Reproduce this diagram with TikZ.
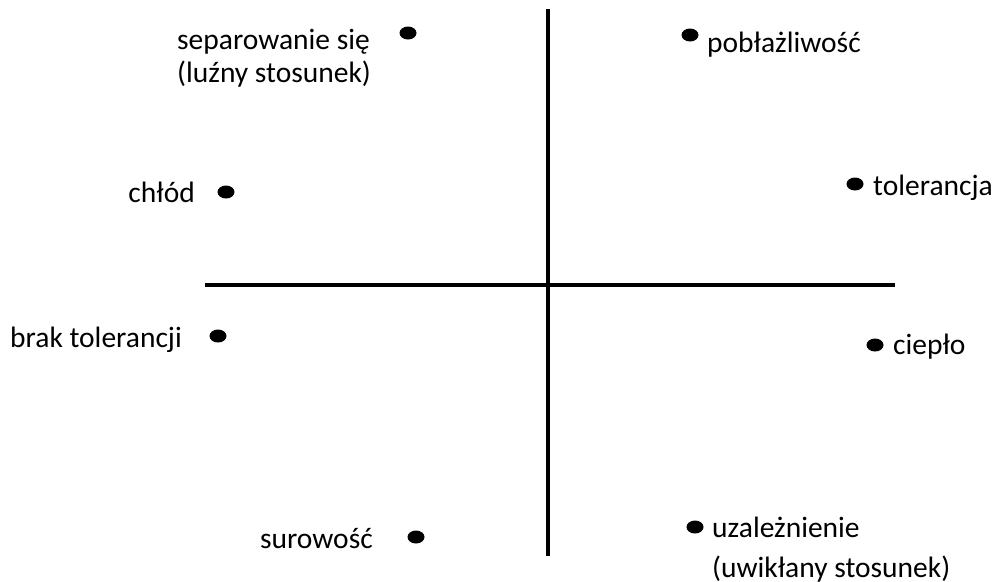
\documentclass[tikz,border=0pt]{standalone}
\usepackage{fontspec}
\setmainfont{Carlito}
\usetikzlibrary{shapes.geometric}

\begin{document}
\begin{tikzpicture}[x=1pt, y=-1pt,
  axis/.style={line width=4pt},
  dot/.style={ellipse, fill=black, inner sep=0pt, minimum width=17pt, minimum height=13pt},
  lbl/.style={font=\fontsize{29.5}{34}\selectfont, inner sep=0pt, align=left}]
\useasboundingbox (0,0) rectangle (992,581);
\coordinate (top) at (548,9); \coordinate (bottom) at (548,556);
\coordinate (left) at (205,285); \coordinate (right) at (895,285);
\draw[axis] (top) -- (bottom);
\draw[axis] (left) -- (right);
\foreach \n/\x/\y in {sep/408/33, pob/690/35, chl/226/192, tol/855/184, brak/218/336, cie/875/345, sur/416/537, uza/695/527}
  { \node[dot] (\n) at (\x,\y) {}; }
% two-line labels sit on their last baseline
\foreach \n/\x/\y/\a/\t in {sep/177/82/west/{separowanie się\\[-1pt](luźny stosunek)}, pob/707/52/west/{pobłażliwość}, chl/195/202/east/{chłód}, tol/873/195/west/{tolerancja}, brak/182/347/east/{brak tolerancji}, cie/893/354/west/{ciepło}, sur/373/548/east/{surowość}, uza/712/577/west/{uzależnienie\\[6pt](uwikłany stosunek)}}
  { \node[lbl, anchor=base \a] (\n-t) at (\x,\y) {\t}; }
\end{tikzpicture}
\end{document}
